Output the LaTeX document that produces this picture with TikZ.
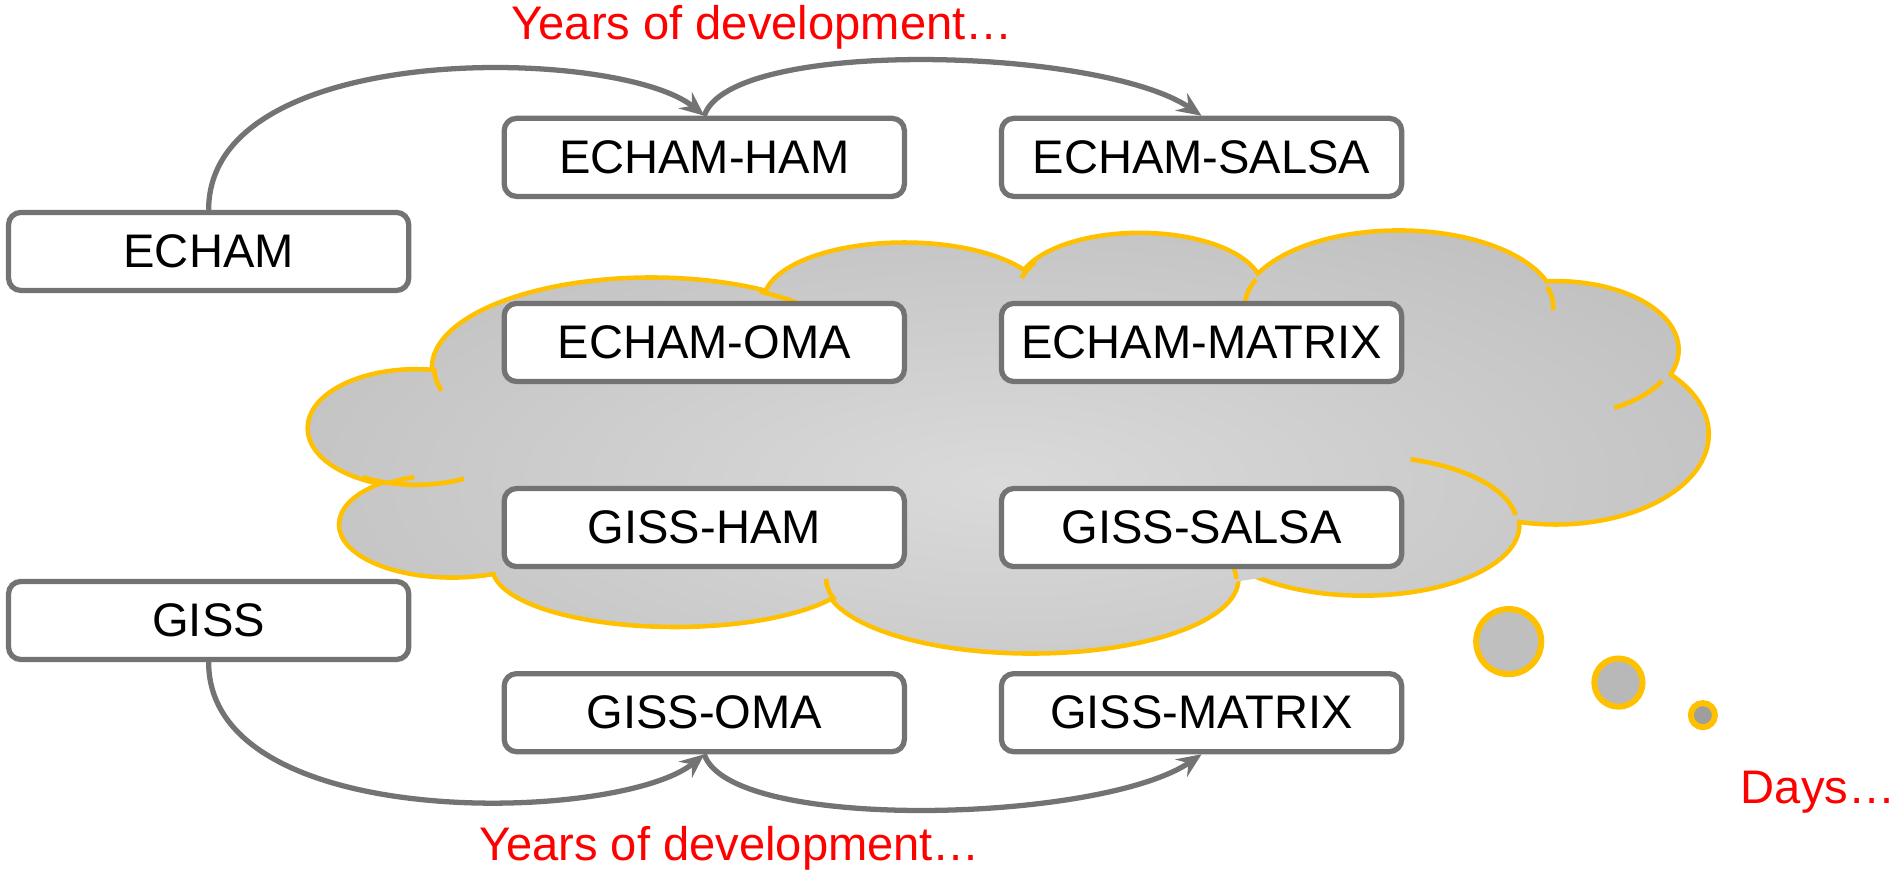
\documentclass[tikz,border=0pt]{standalone}
\usepackage{fontspec}
\setmainfont{Liberation Sans}
\usetikzlibrary{arrows.meta, calc, positioning}

\definecolor{boxgray}{HTML}{737373}
\definecolor{cloudyellow}{HTML}{FFC000}
\definecolor{cloudlight}{HTML}{DADADA}
\definecolor{clouddark}{HTML}{AEAEAE}

\newcommand{\crease}[5]{%
  \draw[cloudline] ($(#1)+(#4:#2 and #3)$) arc[start angle=#4, end angle=#5, x radius=#2, y radius=#3];}

\begin{document}
\begin{tikzpicture}[x=0.01206cm, y=0.01206cm, >={Stealth[length=7pt, width=6pt, inset=2.5pt]},
  node distance=1.85cm and 4.97cm, on grid,
  model/.style={draw=boxgray, line width=1.5pt, fill=white, rounded corners=3.5pt,
    minimum width=4cm, minimum height=0.78cm, font=\fontsize{13.4}{16}\selectfont},
  dev/.style={->, draw=boxgray, line width=1.5pt},
  note/.style={text=red, inner sep=0pt, font=\fontsize{13.4}{16}\selectfont},
  cloudline/.style={draw=cloudyellow, line width=1.3pt},
  bubble/.style={draw=cloudyellow, line width=1.7pt, fill=#1}]
  \useasboundingbox (0,0) rectangle (1568,-729);

  % Cloud of new combinations
  \def\lobes{345/-355/88/47, 375/-435/92/42, 540/-305/180/73, 750/-250/115/47,
    945/-240/100/45, 1160/-255/128/62, 1290/-290/100/55, 1290/-360/125/73,
    1130/-435/128/57, 855/-480/170/60, 560/-470/150/48}
  \foreach \cx/\cy/\rx/\ry in \lobes
    \draw[cloudyellow, line width=2.6pt] (\cx,\cy) ellipse [x radius=\rx, y radius=\ry];
  \begin{scope}
    \clip foreach \cx/\cy/\rx/\ry in \lobes {(\cx,\cy) ellipse [x radius=\rx, y radius=\ry]}
      (830,-365) ellipse [x radius=450, y radius=130];
    \shade[inner color=cloudlight, outer color=clouddark] (-370,40) rectangle (2030,-840);
  \end{scope}
  \crease{540,-305}{180}{73}{180}{195}
  \crease{540,-305}{180}{73}{60}{40}
  \crease{945,-240}{100}{45}{150}{168}
  \crease{1160,-255}{128}{62}{158}{175}
  \crease{1160,-255}{128}{62}{16}{-2}
  \crease{1290,-290}{100}{55}{-28}{-61}
  \crease{1130,-435}{128}{57}{72}{8}
  \crease{855,-480}{170}{60}{0}{20}
  \crease{855,-480}{170}{60}{180}{197}
  \crease{345,-355}{88}{47}{-63}{-120}
  \crease{375,-435}{92}{42}{125}{110}

  % Thought bubbles
  \filldraw[bubble=black!25] (1251,-532) circle [radius=27];
  \filldraw[bubble=black!28] (1342,-566) circle [radius=20];
  \filldraw[bubble=black!38] (1412,-593) circle [radius=10];

  % Models
  \node[model] (echam)       at (173,-208.5)          {ECHAM};
  \node[model] (giss)        at (173,-514.5)          {GISS};
  \node[model] (echamham)    at (584,-130.5)          {ECHAM-HAM};
  \node[model] (echamsalsa)  [right=of echamham]      {ECHAM-SALSA};
  \node[model] (echamoma)    [below=of echamham]      {ECHAM-OMA};
  \node[model] (echammatrix) [right=of echamoma]      {ECHAM-MATRIX};
  \node[model] (gissham)     [below=of echamoma]      {GISS-HAM};
  \node[model] (gisssalsa)   [right=of gissham]       {GISS-SALSA};
  \node[model] (gissoma)     [below=of gissham]       {GISS-OMA};
  \node[model] (gissmatrix)  [right=of gissoma]       {GISS-MATRIX};

  % Development paths
  \draw[dev] (echam.north) .. controls +(0,143) and +(-70,57) .. (echamham.north);
  \draw[dev] (echamham.north) .. controls +(21,65) and +(-84,57) .. (echamsalsa.north);
  \draw[dev] (giss.south) .. controls +(0,-143) and +(-70,-57) .. (gissoma.south);
  \draw[dev] (gissoma.south) .. controls +(21,-65) and +(-84,-57) .. (gissmatrix.south);

  % Notes
  \node[note] (topnote)    at (632,-23)  {Years of development…};
  \node[note] (bottomnote) at (605,-703) {Years of development…};
  \node[note, anchor=west] (daysnote) at (1443,-657) {Days…};
\end{tikzpicture}
\end{document}
